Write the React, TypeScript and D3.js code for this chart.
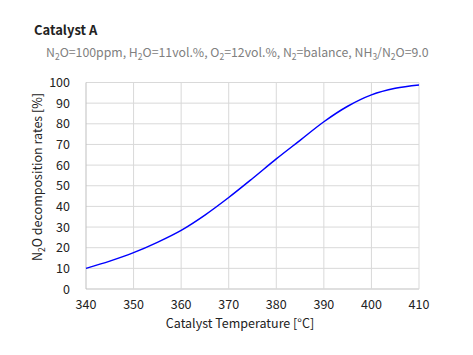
import React from "react";
import * as d3 from "d3";

const temps = [340, 345, 350, 355, 360, 365, 370, 375, 380, 385, 390, 395, 400, 405, 410];
const rates = [10, 13.5, 17.6, 22.6, 28.4, 35.8, 44.3, 53.5, 63, 72, 81, 88.5, 94, 97.2, 98.8];
const xTicks = [340, 350, 360, 370, 380, 390, 400, 410];
const yTicks = [0, 10, 20, 30, 40, 50, 60, 70, 80, 90, 100];

const FONT = "'Noto Sans CJK JP', 'Noto Sans', sans-serif";

export default function App() {
  const W = 473, H = 355;
  const left = 86, right = 419, top = 82.5, bottom = 289;
  const x = d3.scaleLinear().domain([340, 410]).range([left, right]);
  const y = d3.scaleLinear().domain([0, 100]).range([bottom, top]);
  const pts: [number, number][] = temps.map((t, i) => [t, rates[i]]);
  const line = d3.line<[number, number]>().x(d => x(d[0])).y(d => y(d[1])).curve(d3.curveMonotoneX);

  return (
    <svg width={W} height={H} style={{ position: "absolute", left: 0, top: 0, background: "#fff" }} fontFamily={FONT}>
      <text x={34} y={35} fontSize={13} fontWeight="bold" fill="#222">Catalyst A</text>
      <text x={46} y={56.5} fontSize={12.3} fill="#808080">
        N<tspan fontSize={8.5} dy={3}>2</tspan><tspan dy={-3}>O=100ppm, H</tspan>
        <tspan fontSize={8.5} dy={3}>2</tspan><tspan dy={-3}>O=11vol.%, O</tspan>
        <tspan fontSize={8.5} dy={3}>2</tspan><tspan dy={-3}>=12vol.%, N</tspan>
        <tspan fontSize={8.5} dy={3}>2</tspan><tspan dy={-3}>=balance, NH</tspan>
        <tspan fontSize={8.5} dy={3}>3</tspan><tspan dy={-3}>/N</tspan>
        <tspan fontSize={8.5} dy={3}>2</tspan><tspan dy={-3}>O=9.0</tspan>
      </text>
      {yTicks.map(t => (
        <line key={"gy" + t} x1={left} x2={right} y1={y(t)} y2={y(t)} stroke={t === 0 ? "#bfbfbf" : "#d9d9d9"} strokeWidth={1} />
      ))}
      {xTicks.map(t => (
        <line key={"gx" + t} x1={x(t)} x2={x(t)} y1={top} y2={bottom} stroke={t === 340 ? "#bfbfbf" : "#d9d9d9"} strokeWidth={1} />
      ))}
      <path d={line(pts) || ""} fill="none" stroke="#0000ff" strokeWidth={1.5} />
      {yTicks.map(t => (
        <text key={"ly" + t} x={70} y={y(t) + 4.5} fontSize={12.5} textAnchor="end" fill="#222">{t}</text>
      ))}
      {xTicks.map(t => (
        <text key={"lx" + t} x={x(t)} y={309} fontSize={12.5} textAnchor="middle" fill="#222">{t}</text>
      ))}
      <text x={240} y={328} fontSize={12.5} textAnchor="middle" fill="#222">Catalyst Temperature [°C]</text>
      <text transform="translate(42,177) rotate(-90)" fontSize={12.5} textAnchor="middle" fill="#222">
        N<tspan fontSize={8.5} dy={3}>2</tspan><tspan dy={-3}>O decomposition rates [%]</tspan>
      </text>
    </svg>
  );
}
